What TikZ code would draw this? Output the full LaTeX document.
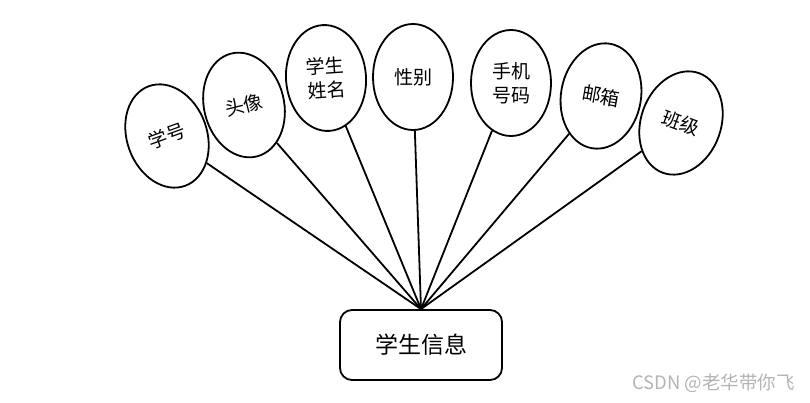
\documentclass[tikz,border=0pt]{standalone}
\usepackage{fontspec}
\setmainfont{Noto Sans CJK SC}
\usepackage{xcolor}
\usepackage{tikz}
\usetikzlibrary{shapes.geometric,calc}
\definecolor{ink}{HTML}{000000}
\definecolor{markgray}{HTML}{B4B4B4}
\tikzset{
  attr/.style={ellipse, draw=ink, line width=1.8pt, align=center, inner sep=0pt, minimum width=80pt, minimum height=106pt, font=\fontsize{19}{24}\selectfont},
  entity/.style={rectangle, rounded corners=12pt, draw=ink, line width=1.8pt, align=center, minimum width=162pt, minimum height=70pt, font=\fontsize{23}{28}\selectfont},
  link/.style={line width=1.8pt, draw=ink},
  wmtext/.style={text=markgray, inner sep=0pt, font=\fontsize{18.5}{20}\selectfont}
}
\begin{document}
\begin{tikzpicture}[x=1pt, y=1pt]
  \useasboundingbox (0,0) rectangle (810,402);
  \node[entity] (info) at (421,57) {学生信息};
  \node[attr, rotate=20] (xuehao) at (167,266) {学号};
  \node[attr, rotate=14] (touxiang) at (244,297) {头像};
  \node[attr, rotate=4] (xingming) at (326,324) {学生\\姓名};
  \node[attr] (xingbie) at (413,325) {性别};
  \node[attr] (shouji) at (511,319) {手机\\号码};
  \node[attr, rotate=-10] (youxiang) at (601,306) {邮箱};
  \node[attr, rotate=-20] (banji) at (681,279) {班级};
  \node[wmtext, anchor=east] (wm) at (795,19) {CSDN @老华带你飞};

  \draw[link] (xuehao) -- (info.north);
  \draw[link] (touxiang) -- (info.north);
  \draw[link] (xingming) -- (info.north);
  \draw[link] (xingbie) -- (info.north);
  \draw[link] (shouji) -- (info.north);
  \draw[link] (youxiang) -- (info.north);
  \draw[link] (banji) -- (info.north);
\end{tikzpicture}
\end{document}
